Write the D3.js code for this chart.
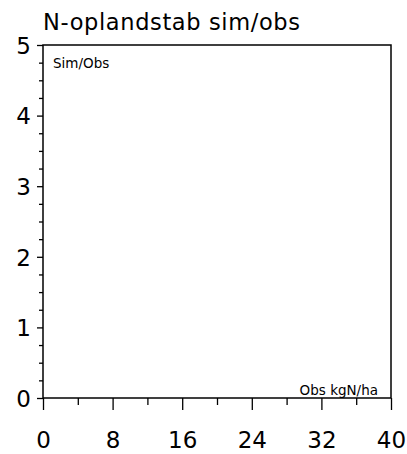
<!DOCTYPE html>
<html><head><meta charset="utf-8">
<script src="https://cdn.jsdelivr.net/npm/d3@7"></script>
<style>body{margin:0;background:#fff;} text{font-family:"DejaVu Sans",Verdana,sans-serif;fill:#000;}</style>
</head><body>
<svg id="c" width="407" height="454"></svg>
<script>
const title = "N-oplandstab sim/obs";
const yLabel = "Sim/Obs";
const xLabel = "Obs kgN/ha";
const xDomain = [0, 40];
const yDomain = [0, 5];
const xMajorTicks = [0, 8, 16, 24, 32, 40];
const xMinorTicks = [4, 12, 20, 28, 36];
const yMajorTicks = [0, 1, 2, 3, 4, 5];
const yMinorTicks = [0.25,0.5,0.75,1.25,1.5,1.75,2.25,2.5,2.75,3.25,3.5,3.75,4.25,4.5,4.75];

const svg = d3.select("#c");
const L = 43, R = 391, T = 45, B = 398;
const x = d3.scaleLinear().domain(xDomain).range([L, R]);
const y = d3.scaleLinear().domain(yDomain).range([B, T]);

// frame
svg.append("rect").attr("x", L).attr("y", T).attr("width", R - L).attr("height", B - T)
  .attr("fill", "none").attr("stroke", "#000").attr("stroke-width", 1.5);

// x axis
const gx = svg.append("g").attr("transform", `translate(0,${B})`);
gx.call(d3.axisBottom(x).tickValues(xMajorTicks).tickSize(12).tickPadding(22).tickFormat(d3.format("d")));
gx.append("g").call(d3.axisBottom(x).tickValues(xMinorTicks).tickSize(7).tickFormat(""));
gx.selectAll(".domain").remove();
gx.selectAll("line").attr("stroke", "#000").attr("stroke-width", 1.3);
gx.selectAll("text").style("font-size", "23px").attr("fill", "#000");

// y axis
const gy = svg.append("g").attr("transform", `translate(${L},0)`);
gy.call(d3.axisLeft(y).tickValues(yMajorTicks).tickSize(6).tickPadding(6).tickFormat(d3.format("d")));
gy.append("g").call(d3.axisLeft(y).tickValues(yMinorTicks).tickSize(4).tickFormat(""));
gy.selectAll(".domain").remove();
gy.selectAll("line").attr("stroke", "#000").attr("stroke-width", 1.3);
gy.selectAll("text").style("font-size", "23px").attr("fill", "#000").attr("dy", "0.36em");

// title
svg.append("text").attr("x", L).attr("y", 30).style("font-size", "22.5px")
  .attr("textLength", 257).attr("lengthAdjust", "spacing").text(title);
// inner labels
svg.append("text").attr("x", 53).attr("y", 68).style("font-size", "13.5px").text(yLabel);
svg.append("text").attr("x", 378).attr("y", 395).attr("text-anchor", "end").style("font-size", "13.5px").text(xLabel);
</script>
</body></html>
